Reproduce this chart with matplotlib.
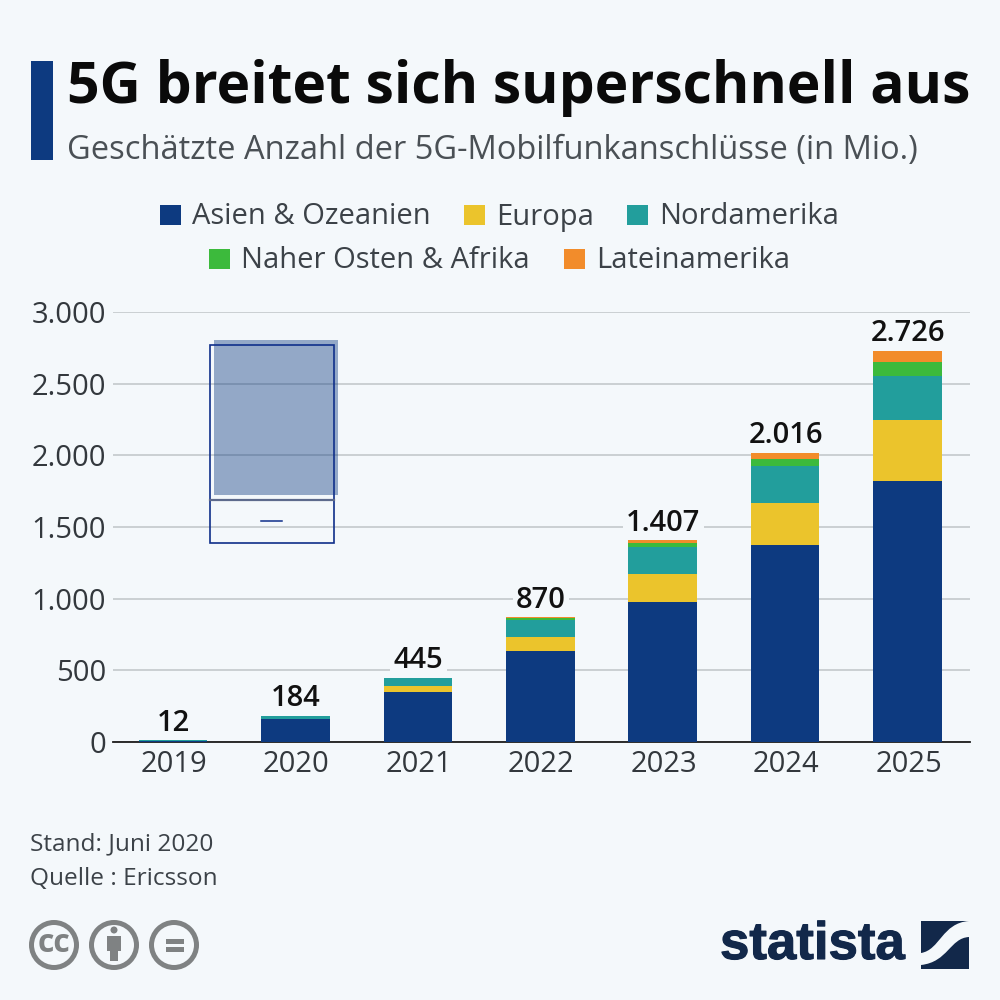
import numpy as np
import matplotlib
matplotlib.use('Agg')
import matplotlib.pyplot as plt
import matplotlib.patheffects as pe
from matplotlib.patches import Rectangle, Circle, PathPatch
from matplotlib.path import Path

plt.rcParams['font.family'] = ['Open Sans', 'DejaVu Sans']

# data (Mio.)
years = ['2019', '2020', '2021', '2022', '2023', '2024', '2025']
asien = [10, 163, 351, 635, 979, 1375, 1821]
europa = [0, 0, 40, 98, 193, 293, 426]
nordamerika = [2, 21, 54, 118, 188, 258, 307]
naher_osten = [0, 0, 0, 12, 30, 49, 98]
lateinamerika = [0, 0, 0, 7, 17, 41, 74]
totals = [12, 184, 445, 870, 1407, 2016, 2726]
total_labels = ['12', '184', '445', '870', '1.407', '2.016', '2.726']
y_ticks = [0, 500, 1000, 1500, 2000, 2500, 3000]
y_tick_labels = ['0', '500', '1.000', '1.500', '2.000', '2.500', '3.000']
series_names = ['Asien & Ozeanien', 'Europa', 'Nordamerika', 'Naher Osten & Afrika', 'Lateinamerika']

BG = '#f4f8fb'
NAVY = '#0d3a80'
colors = [NAVY, '#ebc42c', '#229e9c', '#3cba3c', '#f28c2b']
TXT = '#3c4248'
GREY = '#7f8283'

fig = plt.figure(figsize=(10, 10), dpi=100, facecolor=BG)

# chart area, pixels: x 113-970, y 312-742
ax = fig.add_axes([0.113, 0.258, 0.857, 0.430], facecolor='none')
series = [asien, europa, nordamerika, naher_osten, lateinamerika]
x = np.arange(len(years))
bottom = np.zeros(len(years))
for vals, c in zip(series, colors):
    ax.bar(x, vals, width=0.56, bottom=bottom, color=c, zorder=3)
    bottom += np.array(vals)

ax.set_xlim(-0.49, 6.51)
ax.set_ylim(0, 3000)
ax.set_xticks(x + 0.008)
ax.set_xticklabels(years)
ax.set_yticks(y_ticks)
ax.set_yticklabels(y_tick_labels)
ax.tick_params(axis='x', length=0, pad=6, labelsize=21, labelcolor='#33383d')
ax.tick_params(axis='y', length=0, pad=5, labelsize=21, labelcolor='#33383d')
ax.grid(axis='y', color='#c3c8cc', lw=1.2, zorder=1)
ax.set_axisbelow(True)
for s in ['top', 'right', 'left']:
    ax.spines[s].set_visible(False)
ax.spines['bottom'].set_color('#1c1c1c')
ax.spines['bottom'].set_linewidth(1.3)
# labels sit under the bars so their background only cuts the grid lines
for i, t in enumerate(total_labels):
    ax.annotate(t, (x[i], totals[i]), xytext=(0.5, 2), textcoords='offset points', ha='center', va='bottom',
                fontsize=21, fontweight='semibold', color='#111111', zorder=2,
                bbox=dict(boxstyle='square,pad=0.12', fc=BG, ec='none'))

# overlay in pixel coordinates
ov = fig.add_axes([0, 0, 1, 1], facecolor='none')
ov.set_xlim(0, 1000)
ov.set_ylim(1000, 0)
ov.axis('off')

ov.add_patch(Rectangle((31, 61), 22, 99, color=NAVY, lw=0))
ov.text(67, 88, '5G breitet sich superschnell aus', fontsize=41, fontweight='bold', color='#0a0a0a', va='center')
ov.text(67, 151, 'Geschätzte Anzahl der 5G-Mobilfunkanschlüsse (in Mio.)', fontsize=23.5, color='#4a5055', va='center')

# legend
legend_pos = [(160, 215), (464, 215), (627, 215), (209, 259), (564, 259)]
for (lx, ly), name, c in zip(legend_pos, series_names, colors):
    ov.add_patch(Rectangle((lx, ly - 10), 21, 20, color=c, lw=0))
    ov.text(lx + 32, ly + 2, name, fontsize=21, color=TXT, va='center')

# stray boxes over the chart
ov.add_patch(Rectangle((214, 340), 124, 155, color=NAVY, alpha=0.42, lw=0))
ov.add_patch(Rectangle((210, 345), 123.5, 198, fill=False, ec='#0f2f8a', lw=1.2))
ov.plot([210, 333.5], [499.5, 499.5], color='#5d6a8c', lw=1.6)
ov.plot([261, 282], [521, 521], color='#0f2f8a', lw=1.1)

# footer
ov.text(30, 844, 'Stand: Juni 2020', fontsize=17.6, color=TXT, va='center')
ov.text(30, 879, 'Quelle : Ericsson', fontsize=17.6, color=TXT, va='center')

for cx in [54, 114, 174]:
    ov.add_patch(Circle((cx, 945), 22.5, fill=False, ec=GREY, lw=3.6))
ov.text(54, 944, 'cc', fontsize=23, fontweight='bold', color=GREY, ha='center', va='center')
ov.add_patch(Circle((114, 930), 3.5, color=GREY, lw=0))
ov.add_patch(Rectangle((107, 936), 14, 15, color=GREY, lw=0))
ov.add_patch(Rectangle((110, 950), 8, 11, color=GREY, lw=0))
ov.add_patch(Rectangle((166, 939), 18, 4.5, color=GREY, lw=0))
ov.add_patch(Rectangle((166, 947), 18, 4.5, color=GREY, lw=0))

# logo
LOGO = '#12284a'
ov.text(720, 945, 'statista', fontsize=38, fontweight='bold', color=LOGO, va='center',
        family='Liberation Sans',
        path_effects=[pe.withStroke(linewidth=0.8, foreground=LOGO)])
ov.add_patch(Rectangle((921, 921), 48, 48, color=LOGO, lw=0))
ov.add_patch(PathPatch(Path(
    [(921, 953), (940, 950), (942, 923), (969, 921),
     (969, 937), (950, 938), (948, 962), (921, 965), (921, 953)],
    [Path.MOVETO, Path.CURVE4, Path.CURVE4, Path.CURVE4,
     Path.LINETO, Path.CURVE4, Path.CURVE4, Path.CURVE4, Path.CLOSEPOLY]),
    fc=BG, ec='none'))

fig.savefig('out.png', dpi=100, facecolor=BG)
